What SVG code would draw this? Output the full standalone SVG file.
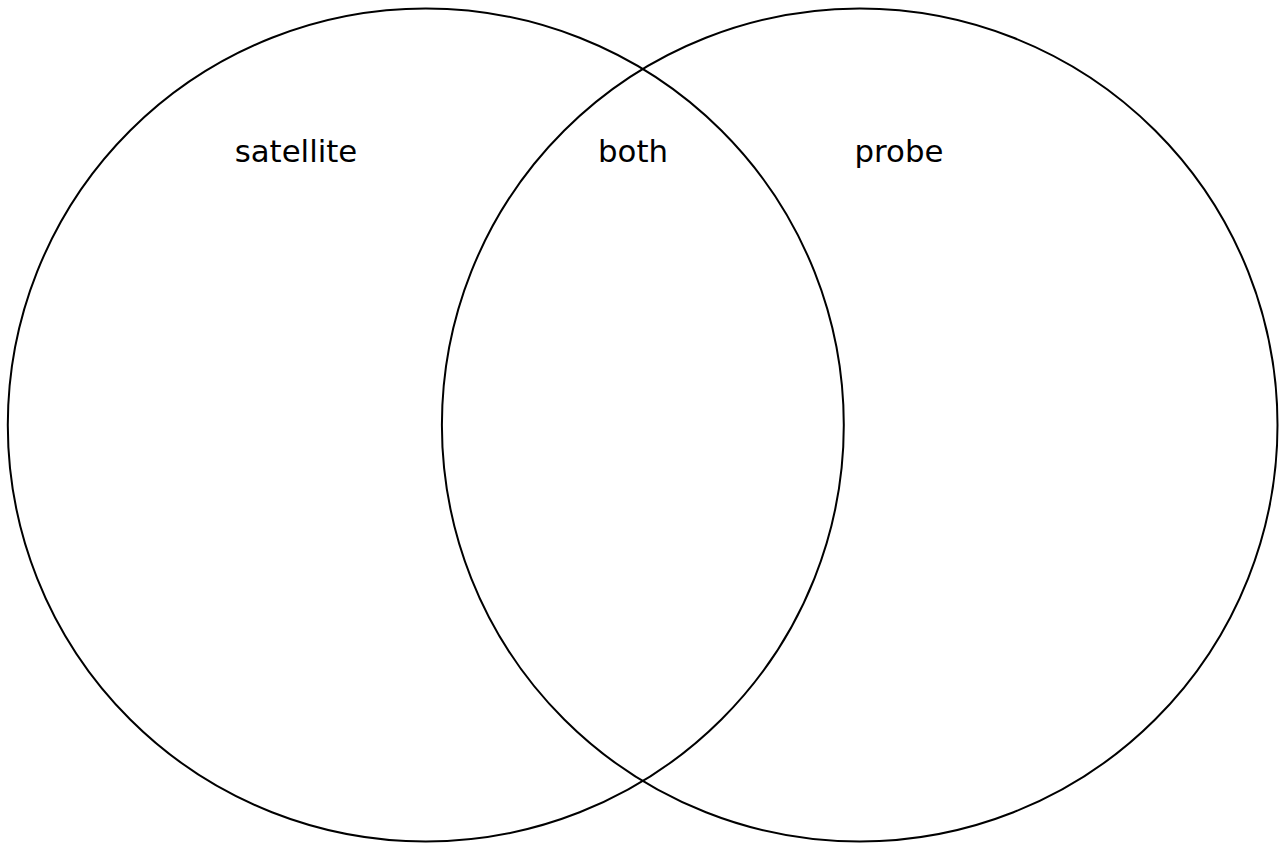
<svg xmlns="http://www.w3.org/2000/svg" width="1280" height="844" viewBox="0 0 1280 844">
<style>
.c{fill:none;stroke:#000;stroke-width:2}
.t{font-family:"DejaVu Sans",Verdana,sans-serif;font-size:30.8px;fill:#000;text-anchor:middle}
</style>
<rect width="1280" height="844" fill="#fff"/>
<g id="set-satellite"><ellipse class="c" cx="425.8" cy="425" rx="418" ry="416.5"/><text class="t" x="296" y="162">satellite</text></g>
<g id="set-probe"><ellipse class="c" cx="859.7" cy="425" rx="417.8" ry="416.5"/><text class="t" x="899" y="162">probe</text></g>
<g id="set-both"><text class="t" x="633" y="162">both</text></g>
<g id="connectors"/>
</svg>
